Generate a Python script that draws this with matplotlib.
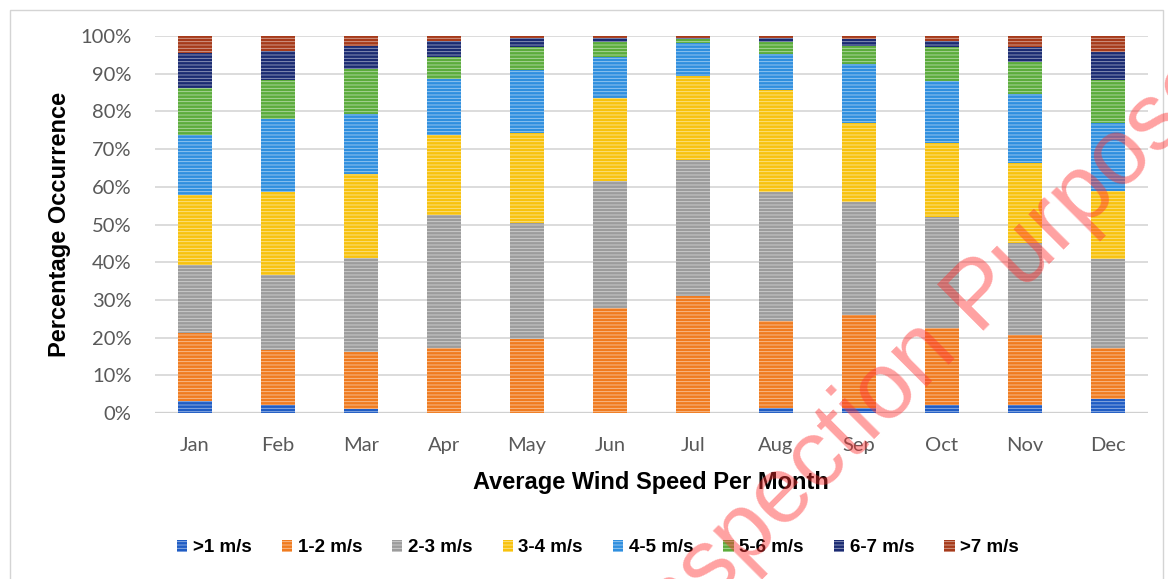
import matplotlib.pyplot as plt
import numpy as np
from matplotlib.patches import Patch, Rectangle

months = ["Jan", "Feb", "Mar", "Apr", "May", "Jun",
          "Jul", "Aug", "Sep", "Oct", "Nov", "Dec"]
classes = [">1 m/s", "1-2 m/s", "2-3 m/s", "3-4 m/s",
           "4-5 m/s", "5-6 m/s", "6-7 m/s", ">7 m/s"]

# share of each wind-speed class per month (%)
below_1 = [3.2, 2.2, 1.1, 0.0, 0.0, 0.0, 0.0, 1.3, 1.3, 2.2, 2.0, 3.8]
ws_1_2 = [17.9, 14.5, 15.0, 17.2, 19.6, 27.8, 31.1, 23.0, 24.7, 20.3, 18.8, 13.4]
ws_2_3 = [18.1, 19.9, 25.0, 35.2, 30.7, 33.7, 36.1, 34.3, 29.9, 29.5, 24.2, 23.6]
ws_3_4 = [18.5, 22.1, 22.2, 21.4, 24.0, 22.0, 22.1, 27.0, 21.0, 19.5, 21.2, 18.1]
ws_4_5 = [16.1, 19.3, 16.0, 14.8, 16.7, 11.0, 8.8, 9.6, 15.6, 16.6, 18.5, 18.0]
ws_5_6 = [12.4, 10.4, 12.0, 5.7, 6.2, 4.0, 1.0, 3.3, 4.9, 9.1, 8.3, 11.5]
ws_6_7 = [9.4, 7.6, 6.1, 4.5, 2.2, 1.1, 0.5, 1.1, 1.8, 1.5, 4.2, 7.3]
above_7 = [4.4, 4.0, 2.6, 1.2, 0.6, 0.4, 0.4, 0.4, 0.8, 1.3, 2.8, 4.3]

series = [below_1, ws_1_2, ws_2_3, ws_3_4, ws_4_5, ws_5_6, ws_6_7, above_7]
colors = ["#1f5cc4", "#f07b1f", "#9c9c9c", "#f8c20d",
          "#2f8fdf", "#5bac3b", "#1a2a72", "#a63a1a"]

W, H = 1168, 579
plt.rcParams["hatch.linewidth"] = 0.6

fig = plt.figure(figsize=(W / 100, H / 100), dpi=100)
ax = fig.add_axes([155 / W, 1 - 413 / H, (1148 - 155) / W, (413 - 36) / H])

x = np.arange(len(months))
bottom = np.zeros(len(months))
for vals, col in zip(series, colors):
    ax.bar(x, vals, 0.41, bottom=bottom, color=col, edgecolor=(1, 1, 1, 0.55),
           linewidth=0, hatch="-----", zorder=2)
    bottom += np.array(vals)

ax.set_xlim(-0.482, 11.482)
ax.set_ylim(0, 100)
ax.set_yticks(np.arange(0, 101, 10))
ax.set_yticklabels([f"{v}%" for v in range(0, 101, 10)])
ax.set_xticks(x)
ax.set_xticklabels(months)
ax.yaxis.grid(True, color="#d6d6d6", linewidth=1.2, zorder=0)
ax.axhline(0, color="#b8b8b8", linewidth=1.6, zorder=1)
for s in ax.spines.values():
    s.set_visible(False)
ax.tick_params(length=0, pad=17, labelsize=14.5, labelcolor="#595959")
for lab in ax.get_xticklabels() + ax.get_yticklabels():
    lab.set_fontfamily("Lato")

fig.text(60 / W, 1 - 224 / H, "Percentage Occurrence", rotation=90,
         ha="center", va="center", fontsize=17, fontweight="bold",
         family="Liberation Sans")
fig.text(651 / W, 1 - 483 / H, "Average Wind Speed Per Month",
         ha="center", va="center", fontsize=17, fontweight="bold",
         family="Liberation Sans")

handles = [Patch(facecolor=c, edgecolor=(1, 1, 1, 0.55), linewidth=0,
                 hatch="-----") for c in colors]
fig.legend(handles, classes, loc="center", ncol=8,
           bbox_to_anchor=(598 / W, 1 - 548 / H), frameon=False,
           handlelength=0.55, handleheight=0.55, handletextpad=0.3,
           columnspacing=1.6, prop={"family": "Liberation Sans",
                                    "weight": "bold", "size": 13.5})

# outer chart frame
fig.patches.append(Rectangle((10 / W, -0.1), (1163 - 10) / W, 1.1 - 10 / H,
                             transform=fig.transFigure, fill=False,
                             edgecolor="#d4d4d4", linewidth=1))

# watermark, anchored at the start of its baseline
fig.text(655 / W, 1 - 659 / H, "Inspection Purpose", rotation=45,
         rotation_mode="anchor", ha="left", va="baseline", fontsize=68,
         color="#ff3030", alpha=0.45, family="Liberation Sans", zorder=10)

fig.savefig("out.png", dpi=100)
